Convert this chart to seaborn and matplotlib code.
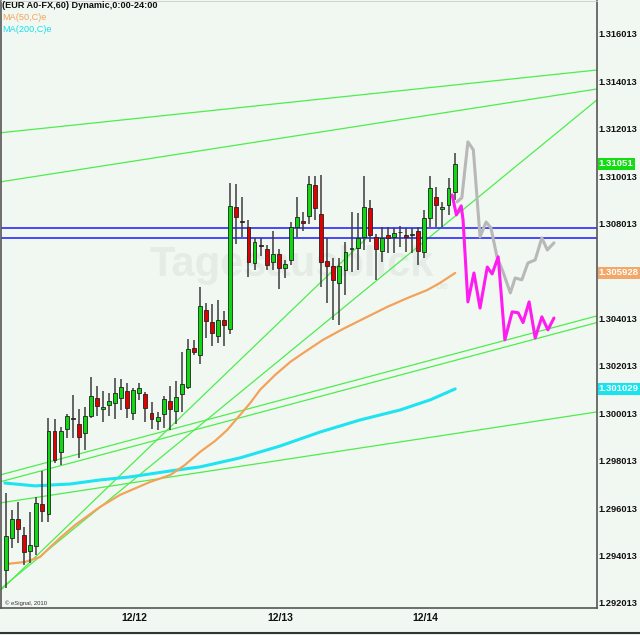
import numpy as np
import pandas as pd
import matplotlib
matplotlib.use("Agg")
from matplotlib import pyplot as plt
from matplotlib.lines import Line2D
import seaborn as sns

# hourly EUR A0-FX candles (index 0 = first candle)
opens = [1.29340, 1.29475, 1.29556, 1.29488, 1.29421, 1.29442, 1.29619, 1.29577, 1.29927, 1.29838,
         1.29935, 1.29982, 1.29956, 1.29918, 1.29990, 1.30066, 1.30020, 1.30036, 1.30045, 1.30066,
         1.30095, 1.30003, 1.30087, 1.30083, 1.30003, 1.29969, 1.29998, 1.30053, 1.30011, 1.30083,
         1.30112, 1.30277, 1.30247, 1.30437, 1.30386, 1.30328, 1.30395, 1.30357, 1.30872, 1.30813,
         1.30787, 1.30635, 1.30711, 1.30694, 1.30640, 1.30673, 1.30614, 1.30648, 1.30787, 1.30813,
         1.30834, 1.30964, 1.30842, 1.30644, 1.30623, 1.30551, 1.30606, 1.30694, 1.30699, 1.30745,
         1.30867, 1.30745, 1.30686, 1.30753, 1.30745, 1.30766, 1.30753, 1.30753, 1.30770, 1.30682,
         1.30825, 1.30914, 1.30863, 1.30880, 1.30935]
highs = [1.29665, 1.29593, 1.29627, 1.29522, 1.29585, 1.29648, 1.29758, 1.29982, 1.29977, 1.29944,
         1.29998, 1.30079, 1.30020, 1.30028, 1.30155, 1.30116, 1.30095, 1.30087, 1.30150, 1.30146,
         1.30129, 1.30108, 1.30129, 1.30091, 1.30049, 1.30007, 1.30074, 1.30116, 1.30138, 1.30260,
         1.30315, 1.30311, 1.30534, 1.30467, 1.30462, 1.30479, 1.30433, 1.30973, 1.30969, 1.30914,
         1.30817, 1.30741, 1.30741, 1.30711, 1.30770, 1.30694, 1.30648, 1.30808, 1.30914, 1.30851,
         1.31002, 1.31002, 1.31006, 1.30741, 1.30657, 1.30657, 1.30724, 1.30851, 1.30846, 1.31002,
         1.30901, 1.30758, 1.30787, 1.30787, 1.30783, 1.30791, 1.30783, 1.30783, 1.30787, 1.30859,
         1.31002, 1.30956, 1.30893, 1.30994, 1.31099]
lows = [1.29265, 1.29433, 1.29454, 1.29361, 1.29370, 1.29404, 1.29543, 1.29543, 1.29792, 1.29783,
        1.29897, 1.29897, 1.29813, 1.29847, 1.29982, 1.29990, 1.29965, 1.29990, 1.29977, 1.30015,
        1.29982, 1.29973, 1.30058, 1.29965, 1.29935, 1.29931, 1.29939, 1.29931, 1.29956, 1.30007,
        1.30104, 1.30247, 1.30209, 1.30319, 1.30285, 1.30298, 1.30285, 1.30336, 1.30715, 1.30745,
        1.30576, 1.30606, 1.30665, 1.30606, 1.30606, 1.30526, 1.30572, 1.30627, 1.30745, 1.30770,
        1.30800, 1.30817, 1.30534, 1.30467, 1.30395, 1.30374, 1.30500, 1.30597, 1.30606, 1.30690,
        1.30724, 1.30564, 1.30640, 1.30678, 1.30678, 1.30703, 1.30682, 1.30678, 1.30627, 1.30657,
        1.30787, 1.30787, 1.30787, 1.30838, 1.30901]
closes = [1.29484, 1.29556, 1.29513, 1.29416, 1.29446, 1.29623, 1.29589, 1.29927, 1.29804, 1.29927,
          1.29990, 1.29975, 1.29901, 1.29990, 1.30074, 1.30032, 1.30028, 1.30053, 1.30087, 1.30112,
          1.30024, 1.30100, 1.30108, 1.30024, 1.29977, 1.29986, 1.30062, 1.30020, 1.30070, 1.30125,
          1.30273, 1.30260, 1.30454, 1.30391, 1.30340, 1.30395, 1.30374, 1.30876, 1.30829, 1.30808,
          1.30640, 1.30724, 1.30705, 1.30627, 1.30673, 1.30614, 1.30631, 1.30787, 1.30829, 1.30804,
          1.30969, 1.30867, 1.30640, 1.30623, 1.30564, 1.30623, 1.30682, 1.30699, 1.30741, 1.30872,
          1.30753, 1.30694, 1.30741, 1.30741, 1.30762, 1.30764, 1.30745, 1.30758, 1.30686, 1.30825,
          1.30952, 1.30880, 1.30872, 1.30952, 1.31053]

# moving averages (x in candle index)
ma50_x = [0.2, 3.1, 5.6, 7.3, 8.9, 11.4, 15.5, 18.8, 23.8, 27.1, 29.5, 32.0, 34.5, 36.5, 38.6,
          40.3, 41.9, 44.4, 46.9, 49.3, 52.3, 55.6, 59.6, 62.9, 66.2, 69.5, 71.6, 74.1]
ma50_y = [1.29366, 1.29374, 1.29395, 1.29437, 1.29475, 1.29530, 1.29606, 1.29657, 1.29712, 1.29741,
          1.29783, 1.29838, 1.29885, 1.29931, 1.29994, 1.30045, 1.30100, 1.30163, 1.30218, 1.30260,
          1.30311, 1.30357, 1.30408, 1.30450, 1.30487, 1.30521, 1.30551, 1.30593]
ma200_x = [-0.2, 4.8, 10.6, 15.5, 20.5, 27.1, 32.0, 38.6, 45.2, 51.8, 58.4, 65.0, 70.0, 74.1]
ma200_y = [1.29707, 1.29695, 1.29703, 1.29720, 1.29733, 1.29758, 1.29775, 1.29813, 1.29863,
           1.29922, 1.29973, 1.30015, 1.30058, 1.30104]

# projected paths
gray_x = [74.4, 75.2, 76.2, 77.1, 78.2, 79.2, 80.0, 81.0, 82.0, 83.2, 84.0, 85.1, 86.1, 87.3,
          88.4, 89.3, 90.4]
gray_y = [1.30893, 1.30910, 1.31146, 1.31112, 1.30745, 1.30808, 1.30783, 1.30661, 1.30597,
          1.30509, 1.30572, 1.30564, 1.30635, 1.30648, 1.30741, 1.30690, 1.30720]
pink_x = [73.6, 74.3, 75.1, 75.4, 76.2, 77.2, 78.2, 79.4, 80.2, 81.2, 82.3, 83.5, 84.5, 85.3,
          86.3, 87.3, 88.4, 89.4, 90.4]
pink_y = [1.30922, 1.30838, 1.30876, 1.30817, 1.30471, 1.30593, 1.30445, 1.30618, 1.30589,
          1.30661, 1.30311, 1.30429, 1.30425, 1.30384, 1.30471, 1.30319, 1.30408, 1.30353, 1.30403]

# trend lines: (x0, y0, x1, y1)
trend_lines = [(-0.99, 1.31184, 97.5, 1.31449),
               (-0.99, 1.30977, 97.5, 1.31369),
               (-0.99, 1.29259, 97.5, 1.31323),
               (-0.99, 1.29252, 59.7, 1.30745),
               (-0.99, 1.29741, 97.5, 1.30412),
               (-0.99, 1.29712, 97.5, 1.30384),
               (-0.99, 1.29623, 97.5, 1.30007)]
h_lines = [1.30783, 1.30741]

y_ticks = [1.292013 + 0.002 * k for k in range(13)]
x_tick_pos = [19.1, 43.1, 67.1]
x_tick_labels = ["12/12", "12/13", "12/14"]

BG = "#f1f8f1"
sns.set_style("white", rc={"axes.facecolor": BG, "figure.facecolor": BG})
plt.rcParams['font.family'] = ['Liberation Sans', 'DejaVu Sans']

fig = plt.figure(figsize=(6.4, 6.35), dpi=100)
ax = fig.add_axes([1 / 640, 27 / 635, 596 / 640, 607 / 635])

# watermark
ax.text(0.488, 0.565, "Tagesausblick", transform=ax.transAxes, fontsize=30, fontweight='bold',
        color="#e5ebe5", ha='center', va='center', zorder=0)
ax.text(0.74, 0.53, "de", transform=ax.transAxes, fontsize=8, fontweight='bold',
        color="#e5ebe5", ha='center', va='center', zorder=0)

for x0, y0, x1, y1 in trend_lines:
    ax.plot([x0, x1], [y0, y1], color="#4ded4d", lw=0.9, zorder=2)
for h in h_lines:
    ax.axhline(h, color="#3a3aff", lw=1.3, zorder=2)

sns.lineplot(x=ma200_x, y=ma200_y, color="#1ee3f0", lw=2.2, ax=ax, zorder=2, estimator=None)
sns.lineplot(x=ma50_x, y=ma50_y, color="#f4a25a", lw=1.6, ax=ax, zorder=2, estimator=None)

# candles
df = pd.DataFrame({"o": opens, "h": highs, "l": lows, "c": closes})
df["x"] = np.arange(len(df))
up = df["c"] >= df["o"]
ax.vlines(df["x"], df["l"], df["h"], color="#3c3c3c", lw=1.1, zorder=3)
body_lo = df[["o", "c"]].min(axis=1)
body_h = (df["c"] - df["o"]).abs().clip(lower=0.00003)
ax.bar(df["x"][up], body_h[up], bottom=body_lo[up], width=0.64, color="#10d810",
       edgecolor="#222222", lw=0.6, zorder=4)
ax.bar(df["x"][~up], body_h[~up], bottom=body_lo[~up], width=0.64, color="#e00000",
       edgecolor="#222222", lw=0.6, zorder=4)

sns.lineplot(x=gray_x, y=gray_y, color="#b8b8b8", lw=2.2, ax=ax, zorder=5, estimator=None)
sns.lineplot(x=pink_x, y=pink_y, color="#ff1cf0", lw=2.2, ax=ax, zorder=6, estimator=None)

ax.set_xlim(-0.83, 97.5)
ax.set_ylim(1.29180, 1.31740)
ax.set_xlabel("")
ax.set_ylabel("")

ax.yaxis.tick_right()
ax.set_yticks(y_ticks)
ax.set_yticklabels([f"{v:.6f}" for v in y_ticks], fontsize=6.7, fontweight='bold', color="#111111")
ax.tick_params(axis='y', length=0, pad=1)
ax.set_xticks(x_tick_pos)
ax.set_xticklabels(x_tick_labels, fontsize=7.5, fontweight='bold', color="#111111", ha='left')
ax.tick_params(axis='x', length=2, pad=1.5, color="#555555")

for side in ["left", "bottom", "right"]:
    ax.spines[side].set_color("#555555")
    ax.spines[side].set_linewidth(1.2)
ax.spines["top"].set_color("#cccccc")
ax.spines["top"].set_linewidth(0.6)

# last value boxes
tr = ax.get_yaxis_transform()
for val, txt, col in [(closes[-1], "1.31051", "#12dd12"),
                      (ma50_y[-1], "1.305928", "#f2a868"),
                      (ma200_y[-1], "1.301029", "#18e4ee")]:
    ax.text(1.003, val, txt, transform=tr, fontsize=6.8, fontweight='bold', color="white",
            va='center', ha='left', clip_on=False,
            bbox=dict(boxstyle="square,pad=0.12", facecolor=col, edgecolor="none"))

# header
fig.text(2 / 640, 1 - 6 / 635, "(EUR A0-FX,60) Dynamic,0:00-24:00", fontsize=6.6,
         fontweight='bold', color="#111111", va='center', ha='left')
fig.text(2 / 640, 1 - 17 / 635, "MA(50,C)e", fontsize=6.6, color="#f4a25a", va='center', ha='left')
fig.text(2 / 640, 1 - 29 / 635, "MA(200,C)e", fontsize=6.6, color="#18dfee", va='center', ha='left')
fig.text(5 / 640, 1 - 603 / 635, "© eSignal, 2010", fontsize=4.2, color="#333333", va='center', ha='left')

fig.add_artist(Line2D([0, 1], [2 / 635, 2 / 635], color="#333333", lw=1.5, transform=fig.transFigure))

fig.savefig("out.png", dpi=100, facecolor=BG)
